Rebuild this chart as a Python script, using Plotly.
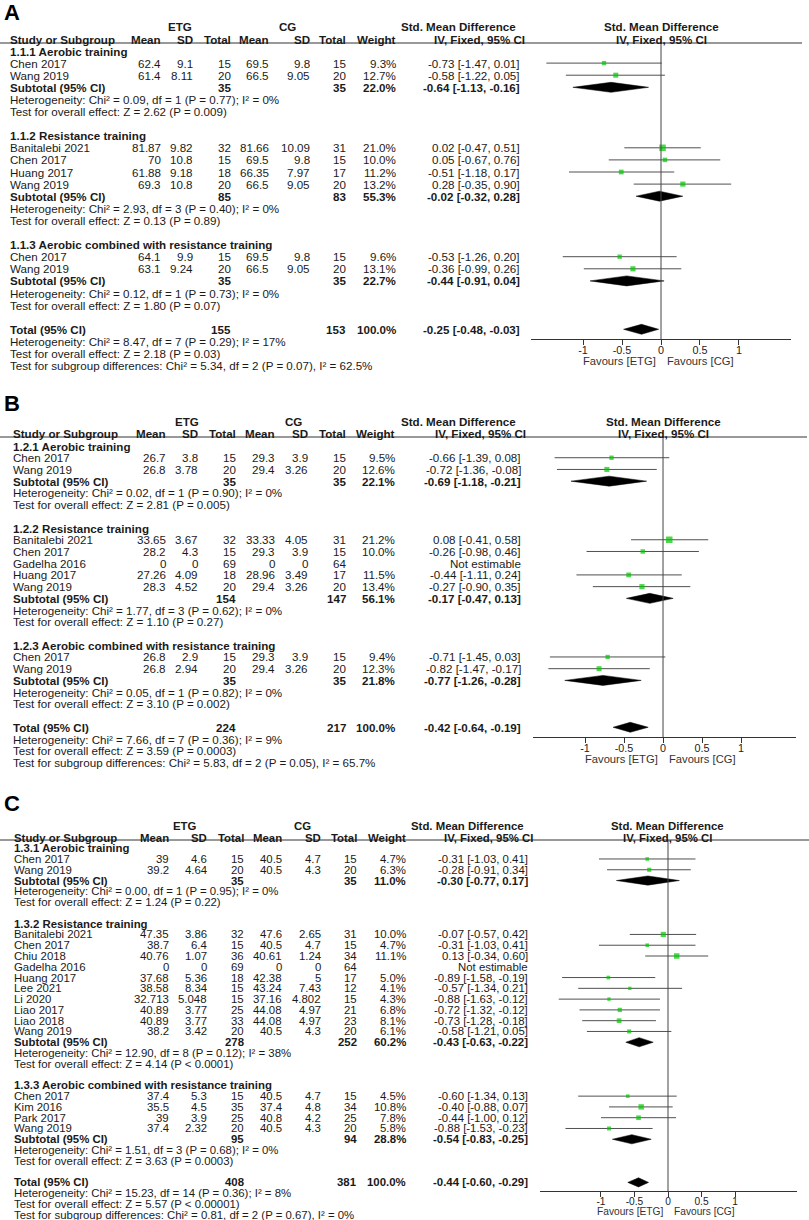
import math

import plotly.graph_objects as go

W, H = 809, 1220
FONT = "Liberation Sans, Arial, sans-serif"
INK = "#1a1a1a"

# ---------------- Panel A ----------------
A_groups = ["1.1.1 Aerobic training", "1.1.2 Resistance training",
            "1.1.3 Aerobic combined with resistance training"]
A_study = ["Chen 2017", "Wang 2019", "Banitalebi 2021", "Chen 2017", "Huang 2017",
           "Wang 2019", "Chen 2017", "Wang 2019"]
A_group_of = [0, 0, 1, 1, 1, 1, 2, 2]
A_etg_mean = [62.4, 61.4, 81.87, 70, 61.88, 69.3, 64.1, 63.1]
A_etg_sd = [9.1, 8.11, 9.82, 10.8, 9.18, 10.8, 9.9, 9.24]
A_etg_n = [15, 20, 32, 15, 18, 20, 15, 20]
A_cg_mean = [69.5, 66.5, 81.66, 69.5, 66.35, 66.5, 69.5, 66.5]
A_cg_sd = [9.8, 9.05, 10.09, 9.8, 7.97, 9.05, 9.8, 9.05]
A_cg_n = [15, 20, 31, 15, 17, 20, 15, 20]
A_weight = [9.3, 12.7, 21.0, 10.0, 11.2, 13.2, 9.6, 13.1]
A_smd = [-0.73, -0.58, 0.02, 0.05, -0.51, 0.28, -0.53, -0.36]
A_lo = [-1.47, -1.22, -0.47, -0.67, -1.18, -0.35, -1.26, -0.99]
A_hi = [0.01, 0.05, 0.51, 0.76, 0.17, 0.90, 0.20, 0.26]
# subgroup subtotals, last entry = overall total
A_sum_etg_n = [35, 85, 35, 155]
A_sum_cg_n = [35, 83, 35, 153]
A_sum_weight = [22.0, 55.3, 22.7, 100.0]
A_sum_smd = [-0.64, -0.02, -0.44, -0.25]
A_sum_lo = [-1.13, -0.32, -0.91, -0.48]
A_sum_hi = [-0.16, 0.28, 0.04, -0.03]
A_het = ["Chi² = 0.09, df = 1 (P = 0.77); I² = 0%",
         "Chi² = 2.93, df = 3 (P = 0.40); I² = 0%",
         "Chi² = 0.12, df = 1 (P = 0.73); I² = 0%",
         "Chi² = 8.47, df = 7 (P = 0.29); I² = 17%"]
A_z = ["Z = 2.62 (P = 0.009)", "Z = 0.13 (P = 0.89)", "Z = 1.80 (P = 0.07)",
       "Z = 2.18 (P = 0.03)"]
A_subdiff = "Chi² = 5.34, df = 2 (P = 0.07), I² = 62.5%"

# ---------------- Panel B ----------------
B_groups = ["1.2.1 Aerobic training", "1.2.2 Resistance training",
            "1.2.3 Aerobic combined with resistance training"]
B_study = ["Chen 2017", "Wang 2019", "Banitalebi 2021", "Chen 2017", "Gadelha 2016",
           "Huang 2017", "Wang 2019", "Chen 2017", "Wang 2019"]
B_group_of = [0, 0, 1, 1, 1, 1, 1, 2, 2]
B_etg_mean = [26.7, 26.8, 33.65, 28.2, 0, 27.26, 28.3, 26.8, 26.8]
B_etg_sd = [3.8, 3.78, 3.67, 4.3, 0, 4.09, 4.52, 2.9, 2.94]
B_etg_n = [15, 20, 32, 15, 69, 18, 20, 15, 20]
B_cg_mean = [29.3, 29.4, 33.33, 29.3, 0, 28.96, 29.4, 29.3, 29.4]
B_cg_sd = [3.9, 3.26, 4.05, 3.9, 0, 3.49, 3.26, 3.9, 3.26]
B_cg_n = [15, 20, 31, 15, 64, 17, 20, 15, 20]
B_weight = [9.5, 12.6, 21.2, 10.0, None, 11.5, 13.4, 9.4, 12.3]
B_smd = [-0.66, -0.72, 0.08, -0.26, None, -0.44, -0.27, -0.71, -0.82]
B_lo = [-1.39, -1.36, -0.41, -0.98, None, -1.11, -0.90, -1.45, -1.47]
B_hi = [0.08, -0.08, 0.58, 0.46, None, 0.24, 0.35, 0.03, -0.17]
B_sum_etg_n = [35, 154, 35, 224]
B_sum_cg_n = [35, 147, 35, 217]
B_sum_weight = [22.1, 56.1, 21.8, 100.0]
B_sum_smd = [-0.69, -0.17, -0.77, -0.42]
B_sum_lo = [-1.18, -0.47, -1.26, -0.64]
B_sum_hi = [-0.21, 0.13, -0.28, -0.19]
B_het = ["Chi² = 0.02, df = 1 (P = 0.90); I² = 0%",
         "Chi² = 1.77, df = 3 (P = 0.62); I² = 0%",
         "Chi² = 0.05, df = 1 (P = 0.82); I² = 0%",
         "Chi² = 7.66, df = 7 (P = 0.36); I² = 9%"]
B_z = ["Z = 2.81 (P = 0.005)", "Z = 1.10 (P = 0.27)", "Z = 3.10 (P = 0.002)",
       "Z = 3.59 (P = 0.0003)"]
B_subdiff = "Chi² = 5.83, df = 2 (P = 0.05), I² = 65.7%"

# ---------------- Panel C ----------------
C_groups = ["1.3.1 Aerobic training", "1.3.2 Resistance training",
            "1.3.3 Aerobic combined with resistance training"]
C_study = ["Chen 2017", "Wang 2019",
           "Banitalebi 2021", "Chen 2017", "Chiu 2018", "Gadelha 2016", "Huang 2017",
           "Lee 2021", "Li 2020", "Liao 2017", "Liao 2018", "Wang 2019",
           "Chen 2017", "Kim 2016", "Park 2017", "Wang 2019"]
C_group_of = [0, 0, 1, 1, 1, 1, 1, 1, 1, 1, 1, 1, 2, 2, 2, 2]
C_etg_mean = [39, 39.2, 47.35, 38.7, 40.76, 0, 37.68, 38.58, 32.713, 40.89, 40.89, 38.2,
              37.4, 35.5, 39, 37.4]
C_etg_sd = [4.6, 4.64, 3.86, 6.4, 1.07, 0, 5.36, 8.34, 5.048, 3.77, 3.77, 3.42,
            5.3, 4.5, 3.9, 2.32]
C_etg_n = [15, 20, 32, 15, 36, 69, 18, 15, 15, 25, 33, 20, 15, 35, 25, 20]
C_cg_mean = [40.5, 40.5, 47.6, 40.5, 40.61, 0, 42.38, 43.24, 37.16, 44.08, 44.08, 40.5,
             40.5, 37.4, 40.8, 40.5]
C_cg_sd = [4.7, 4.3, 2.65, 4.7, 1.24, 0, 5, 7.43, 4.802, 4.97, 4.97, 4.3,
           4.7, 4.8, 4.2, 4.3]
C_cg_n = [15, 20, 31, 15, 34, 64, 17, 12, 15, 21, 23, 20, 15, 34, 25, 20]
C_weight = [4.7, 6.3, 10.0, 4.7, 11.1, None, 5.0, 4.1, 4.3, 6.8, 8.1, 6.1,
            4.5, 10.8, 7.8, 5.8]
C_smd = [-0.31, -0.28, -0.07, -0.31, 0.13, None, -0.89, -0.57, -0.88, -0.72, -0.73, -0.58,
         -0.60, -0.40, -0.44, -0.88]
C_lo = [-1.03, -0.91, -0.57, -1.03, -0.34, None, -1.58, -1.34, -1.63, -1.32, -1.28, -1.21,
        -1.34, -0.88, -1.00, -1.53]
C_hi = [0.41, 0.34, 0.42, 0.41, 0.60, None, -0.19, 0.21, -0.12, -0.12, -0.18, 0.05,
        0.13, 0.07, 0.12, -0.23]
C_sum_etg_n = [35, 278, 95, 408]
C_sum_cg_n = [35, 252, 94, 381]
C_sum_weight = [11.0, 60.2, 28.8, 100.0]
C_sum_smd = [-0.30, -0.43, -0.54, -0.44]
C_sum_lo = [-0.77, -0.63, -0.83, -0.60]
C_sum_hi = [0.17, -0.22, -0.25, -0.29]
C_het = ["Chi² = 0.00, df = 1 (P = 0.95); I² = 0%",
         "Chi² = 12.90, df = 8 (P = 0.12); I² = 38%",
         "Chi² = 1.51, df = 3 (P = 0.68); I² = 0%",
         "Chi² = 15.23, df = 14 (P = 0.36); I² = 8%"]
C_z = ["Z = 1.24 (P = 0.22)", "Z = 4.14 (P &lt; 0.0001)", "Z = 3.63 (P = 0.0003)",
       "Z = 5.57 (P &lt; 0.00001)"]
C_subdiff = "Chi² = 0.81, df = 2 (P = 0.67), I² = 0%"

col_heads = ["Mean", "SD", "Total", "Mean", "SD", "Total", "Weight"]
tick_vals = [-1, -0.5, 0, 0.5, 1]
tick_text = ["-1", "-0.5", "0", "0.5", "1"]


def bundle(letter, pre):
    g = globals()
    keys = ["groups", "study", "group_of", "etg_mean", "etg_sd", "etg_n", "cg_mean", "cg_sd",
            "cg_n", "weight", "smd", "lo", "hi", "sum_etg_n", "sum_cg_n", "sum_weight",
            "sum_smd", "sum_lo", "sum_hi", "het", "z", "subdiff"]
    d = {k: g[f"{pre}_{k}"] for k in keys}
    d["letter"] = letter
    return d


panels = [bundle("A", "A"), bundle("B", "B"), bundle("C", "C")]

# pixel geometry of each panel (layout only)
geom = [
    dict(label_y=13, hdr1=26.5, hdr2=39, line_y=43, line_r=802, y0=51, rh=12.1, fs=11.6,
         study_x=9, cols=[162, 194, 232, 270, 311, 347, 397], etg_c=180, cg_c=287,
         eff_r=521, smd_r=517, iv_r=526, ax=[531, 791], rng=[-1.667, 1.667],
         axis_y=339, fav_y=361, fav_fs=11.2, tick_fs=10.8, sq=6.5, dh=5),
    dict(label_y=403, hdr1=422, hdr2=433.5, line_y=437, line_r=807, y0=446, rh=11.72, fs=11.6,
         study_x=11.5, cols=[167, 199, 237, 276, 309, 347, 396], etg_c=187, cg_c=293,
         eff_r=522, smd_r=517, iv_r=527, ax=[533, 796], rng=[-1.667, 1.705],
         axis_y=737, fav_y=758.5, fav_fs=11.2, tick_fs=10.8, sq=6.5, dh=5),
    dict(label_y=803, hdr1=826, hdr2=837.5, line_y=840, line_r=809, y0=848.2, rh=10.78, fs=11.4,
         study_x=12.5, cols=[170, 208, 245, 283, 322, 358, 407], etg_c=185, cg_c=302,
         eff_r=529, smd_r=525, iv_r=534, ax=[540, 797], rng=[-1.91, 1.925],
         axis_y=1191, fav_y=1211, fav_fs=10.2, tick_fs=10.2, sq=5.5, dh=4.6),
]

annotations = []
shapes = []
fig = go.Figure()


def txt(x, y, s, anchor="left", bold=False, size=11.6, color=INK):
    annotations.append(dict(
        x=x / W, y=1 - y / H, xref="paper", yref="paper", text=f"<b>{s}</b>" if bold else s,
        xanchor=anchor, yanchor="middle", showarrow=False, borderpad=0,
        font=dict(family=FONT, size=size, color=color)))


def ci_label(m, lo, hi):
    return f"{m:.2f} [{lo:.2f}, {hi:.2f}]"


for pi, (p, g) in enumerate(zip(panels, geom)):
    sfx = "" if pi == 0 else str(pi + 1)
    xa, ya = "x" + sfx, "y" + sfx
    fs = g["fs"]
    cols = g["cols"]

    def Y(r):
        return g["y0"] + r * g["rh"]

    zero_px = g["ax"][0] + (0 - g["rng"][0]) / (g["rng"][1] - g["rng"][0]) * (g["ax"][1] - g["ax"][0])

    # headers
    txt(3, g["label_y"], p["letter"], bold=True, size=22, color="#000")
    txt(g["etg_c"], g["hdr1"], "ETG", "center", True, fs)
    txt(g["cg_c"], g["hdr1"], "CG", "center", True, fs)
    txt(g["smd_r"], g["hdr1"], "Std. Mean Difference", "right", True, fs)
    txt(zero_px, g["hdr1"], "Std. Mean Difference", "center", True, fs)
    txt(g["study_x"], g["hdr2"], "Study or Subgroup", "left", True, fs)
    for cx, h in zip(cols, col_heads):
        txt(cx, g["hdr2"], h, "right", True, fs)
    txt(g["iv_r"], g["hdr2"], "IV, Fixed, 95% CI", "right", True, fs)
    txt(zero_px, g["hdr2"], "IV, Fixed, 95% CI", "center", True, fs)
    shapes.append(dict(type="line", xref="paper", yref="paper", x0=0, x1=g["line_r"] / W,
                       y0=1 - g["line_y"] / H, y1=1 - g["line_y"] / H,
                       line=dict(color="#333", width=1)))

    wmax = max(w for w in p["weight"] if w is not None)
    ci_x, ci_y, sq_x, sq_y, sq_s, dm_x, dm_y = [], [], [], [], [], [], []

    def summary_row(k, label, y):
        txt(g["study_x"], y, label, bold=True, size=fs)
        txt(cols[2], y, str(p["sum_etg_n"][k]), "right", True, fs)
        txt(cols[5], y, str(p["sum_cg_n"][k]), "right", True, fs)
        txt(cols[6], y, f"{p['sum_weight'][k]:.1f}%", "right", True, fs)
        m, lo, hi = p["sum_smd"][k], p["sum_lo"][k], p["sum_hi"][k]
        txt(g["eff_r"], y, ci_label(m, lo, hi), "right", True, fs)
        dm_x.extend([lo, m, hi, m, lo, None])
        dm_y.extend([y, y - g["dh"], y, y + g["dh"], y, None])

    r = 0
    for gi, gname in enumerate(p["groups"]):
        txt(g["study_x"], Y(r), gname, bold=True, size=fs)
        r += 1
        for i, grp in enumerate(p["group_of"]):
            if grp != gi:
                continue
            y = Y(r)
            txt(g["study_x"], y, p["study"][i], size=fs)
            vals = [p["etg_mean"][i], p["etg_sd"][i], p["etg_n"][i],
                    p["cg_mean"][i], p["cg_sd"][i], p["cg_n"][i]]
            for cx, v in zip(cols[:6], vals):
                txt(cx, y, str(v), "right", size=fs)
            if p["weight"][i] is None:
                txt(g["eff_r"], y, "Not estimable", "right", size=fs)
            else:
                txt(cols[6], y, f"{p['weight'][i]:.1f}%", "right", size=fs)
                txt(g["eff_r"], y, ci_label(p["smd"][i], p["lo"][i], p["hi"][i]), "right", size=fs)
                ci_x.extend([p["lo"][i], p["hi"][i], None])
                ci_y.extend([y, y, None])
                sq_x.append(p["smd"][i])
                sq_y.append(y)
                sq_s.append(g["sq"] * math.sqrt(p["weight"][i] / wmax))
            r += 1
        summary_row(gi, "Subtotal (95% CI)", Y(r))
        r += 1
        txt(g["study_x"], Y(r), "Heterogeneity: " + p["het"][gi], size=fs)
        r += 1
        txt(g["study_x"], Y(r), "Test for overall effect: " + p["z"][gi], size=fs)
        r += 2
    k = len(p["groups"])
    summary_row(k, "Total (95% CI)", Y(r))
    txt(g["study_x"], Y(r + 1), "Heterogeneity: " + p["het"][k], size=fs)
    txt(g["study_x"], Y(r + 2), "Test for overall effect: " + p["z"][k], size=fs)
    txt(g["study_x"], Y(r + 3), "Test for subgroup differences: " + p["subdiff"], size=fs)

    # vertical line of no effect, from header rule down to the axis
    shapes.append(dict(type="line", xref=xa, yref=ya, x0=0, x1=0, y0=g["line_y"],
                       y1=g["axis_y"], line=dict(color="#444", width=1)))
    txt(zero_px - 4, g["fav_y"], "Favours [ETG]", "right", size=g["fav_fs"], color="#333")
    txt(zero_px + 5, g["fav_y"], "Favours [CG]", "left", size=g["fav_fs"], color="#333")

    fig.add_trace(go.Scatter(x=ci_x, y=ci_y, xaxis=xa, yaxis=ya, mode="lines",
                             line=dict(color="#505050", width=1), hoverinfo="skip"))
    fig.add_trace(go.Scatter(x=sq_x, y=sq_y, xaxis=xa, yaxis=ya, mode="markers",
                             marker=dict(symbol="square", size=sq_s, color="#00c800",
                                         line=dict(width=0)), hoverinfo="skip"))
    fig.add_trace(go.Scatter(x=dm_x, y=dm_y, xaxis=xa, yaxis=ya, mode="lines",
                             fill="toself", fillcolor="#000", line=dict(color="#000", width=0.5),
                             hoverinfo="skip"))

    # panel axes in pixel units: y runs from the axis line up to the header rule
    fig.update_layout(**{
        "xaxis" + sfx: dict(
            domain=[g["ax"][0] / W, g["ax"][1] / W], range=g["rng"], anchor=ya,
            showline=True, linecolor="#333", linewidth=1,
            ticks="outside", ticklen=5, tickcolor="#333", tickvals=tick_vals,
            ticktext=tick_text, tickfont=dict(family=FONT, size=g["tick_fs"], color="#222"),
            ticklabelstandoff=-4,
            showgrid=False, zeroline=False, fixedrange=True),
        "yaxis" + sfx: dict(
            domain=[1 - g["axis_y"] / H, 1 - g["line_y"] / H], range=[g["axis_y"], g["line_y"]],
            anchor=xa, visible=False, showgrid=False, zeroline=False, fixedrange=True),
    })

fig.update_layout(
    width=W, height=H, margin=dict(l=0, r=0, t=0, b=0),
    paper_bgcolor="white", plot_bgcolor="white", showlegend=False,
    annotations=annotations, shapes=shapes,
)

# drop the browser's default page margin so the figure sits at the window's corner
fig.write_html("out.html", config={"displayModeBar": False},
               post_script="document.body.style.margin = '0px';")
